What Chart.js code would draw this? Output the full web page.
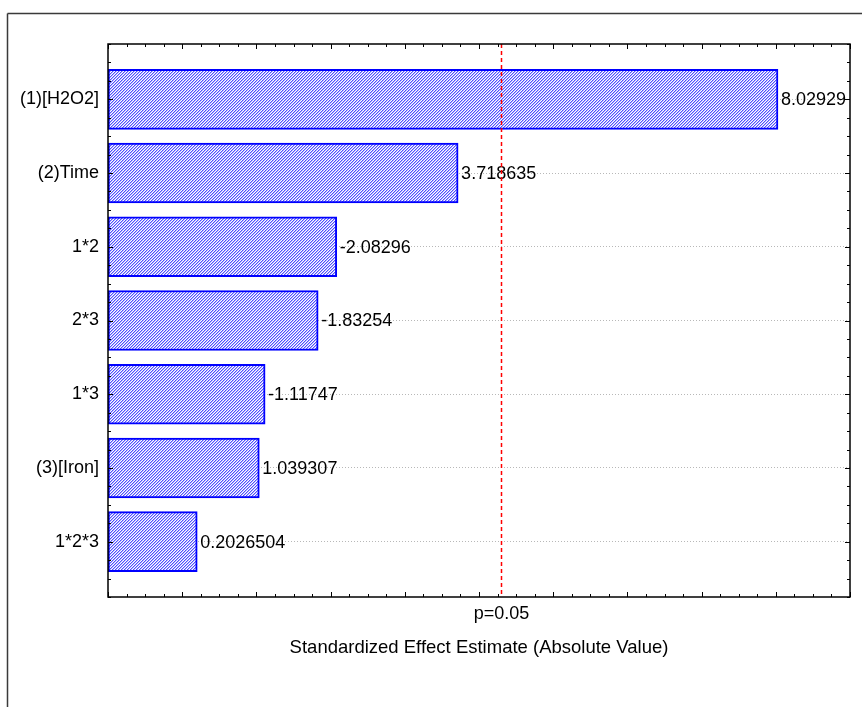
<!DOCTYPE html>
<html><head><meta charset="utf-8">
<script src="https://cdn.jsdelivr.net/npm/chart.js@4.4.1/dist/chart.umd.min.js"></script>
<style>html,body{margin:0;padding:0;background:#fff;overflow:hidden}#wrap{width:862px;height:707px;position:relative}</style>
</head><body><div id="wrap"><canvas id="c" width="862" height="707"></canvas></div>
<script>
const categories = ['(1)[H2O2]', '(2)Time', '1*2', '2*3', '1*3', '(3)[Iron]', '1*2*3'];
const effects = [8.02929, 3.718635, -2.08296, -1.83254, -1.11747, 1.039307, 0.2026504];
const effectLabels = ['8.02929', '3.718635', '-2.08296', '-1.83254', '-1.11747', '1.039307', '0.2026504'];
const pCritical = 4.302653;
const pLabel = 'p=0.05';
const xMin = -1, xMax = 9, xMinorStep = 0.25;
const yMin = -0.75, yMax = 6.75, yMinorStep = 0.25;
const xTitle = 'Standardized Effect Estimate (Absolute Value)';

const FONT = {family: '"Liberation Sans", Arial, sans-serif', size: 18};
const TITLE_FONT = {family: '"Liberation Sans", Arial, sans-serif', size: 18.5};

function hatch() {
  const n = 3;
  const shades = ['#5050ff', '#b4b4ff', '#ffffff'];
  const c = document.createElement('canvas');
  c.width = n; c.height = n;
  const g = c.getContext('2d');
  for (let x = 0; x < n; x++) {
    for (let y = 0; y < n; y++) {
      g.fillStyle = shades[(x + y) % n];
      g.fillRect(x, y, 1, 1);
    }
  }
  return g.createPattern(c, 'repeat');
}

function line(ctx, x1, y1, x2, y2) { ctx.beginPath(); ctx.moveTo(x1, y1); ctx.lineTo(x2, y2); ctx.stroke(); }

const decor = {
  id: 'decor',
  beforeDraw(chart) {
    const ctx = chart.ctx;
    ctx.save();
    ctx.fillStyle = '#fff'; ctx.fillRect(0, 0, chart.width, chart.height);
    ctx.strokeStyle = '#3a3a3a'; ctx.lineWidth = 1.5;
    line(ctx, 7.5, 13.5, chart.width, 13.5);
    line(ctx, 7.5, 13.5, 7.5, chart.height);
    ctx.restore();
  },
  afterDatasetsDraw(chart) {
    const ctx = chart.ctx, a = chart.chartArea, xs = chart.scales.x, ys = chart.scales.y;
    const meta = chart.getDatasetMeta(0);
    ctx.save();
    ctx.beginPath(); ctx.rect(a.left, a.top, a.right - a.left, a.bottom - a.top); ctx.clip();
    ctx.fillStyle = '#000';
    ctx.font = FONT.size + 'px ' + FONT.family;
    ctx.textAlign = 'left'; ctx.textBaseline = 'middle';
    meta.data.forEach((bar, i) => { ctx.fillText(effectLabels[i], bar.x + 3, bar.y + 1); });
    ctx.restore();
    ctx.save();
    ctx.strokeStyle = '#ff0000'; ctx.lineWidth = 1.5; ctx.setLineDash([4, 3]);
    const px = Math.round(xs.getPixelForValue(pCritical)) + 0.5;
    line(ctx, px, a.top, px, a.bottom);
    ctx.restore();
    ctx.save();
    ctx.strokeStyle = '#000'; ctx.lineWidth = 1;
    const nx = Math.round((xMax - xMin) / xMinorStep);
    for (let k = 0; k <= nx; k++) {
      const v = xMin + k * xMinorStep;
      const x = Math.round(xs.getPixelForValue(v)) + 0.5;
      const len = Number.isInteger(Math.round(v * 1000) / 1000) ? 5 : 3;
      line(ctx, x, a.bottom, x, a.bottom - len);
      line(ctx, x, a.top, x, a.top + len);
    }
    const ny = Math.round((yMax - yMin) / yMinorStep);
    for (let k = 0; k <= ny; k++) {
      const v = yMin + k * yMinorStep;
      const y = Math.round(ys.getPixelForValue(v)) + 0.5;
      const len = Number.isInteger(Math.round(v * 1000) / 1000) ? 5 : 3;
      line(ctx, a.left, y, a.left + len, y);
      line(ctx, a.right, y, a.right - len, y);
    }
    ctx.lineWidth = 1.5;
    ctx.strokeRect(a.left, a.top, a.right - a.left, a.bottom - a.top);
    ctx.restore();
  }
};

new Chart(document.getElementById('c'), {
  type: 'bar',
  data: {
    datasets: [{
      data: categories.map((c, i) => ({x: Math.abs(effects[i]), y: i})),
      base: xMin,
      backgroundColor: hatch(),
      borderColor: '#0000ff',
      borderWidth: 2,
      borderSkipped: false,
      barThickness: 60
    }]
  },
  options: {
    indexAxis: 'y',
    responsive: false,
    animation: false,
    devicePixelRatio: 1,
    layout: {padding: {left: 0, top: 44, right: 12, bottom: 0}},
    plugins: {legend: {display: false}, tooltip: {enabled: false}},
    scales: {
      y: {
        type: 'linear', reverse: true, min: yMin, max: yMax, offset: false,
        afterBuildTicks(s) {
          const t = [];
          const n = Math.round((yMax - yMin) / yMinorStep);
          for (let k = 0; k <= n; k++) t.push({value: Math.round((yMin + k * yMinorStep) * 1000) / 1000});
          s.ticks = t;
        },
        afterFit(s) { s.width = 108; },
        ticks: {
          autoSkip: false, padding: 9, color: '#000', font: FONT,
          callback: (v) => Number.isInteger(v) ? categories[v] : ''
        },
        grid: {
          offset: false, drawTicks: false, lineWidth: 1,
          color: (ctx) => (ctx.tick && Number.isInteger(ctx.tick.value)) ? '#b8b8b8' : 'rgba(0,0,0,0)'
        },
        border: {display: false, dash: [1, 2]}
      },
      x: {
        type: 'linear', min: xMin, max: xMax, offset: false,
        afterBuildTicks(s) { s.ticks = [{value: pCritical}]; },
        afterFit(s) { s.height = 110; },
        ticks: {autoSkip: false, maxRotation: 0, padding: 6, color: '#000', font: FONT, callback: () => pLabel},
        grid: {display: false, drawTicks: false},
        border: {display: false},
        title: {display: true, text: xTitle, color: '#000', font: TITLE_FONT, padding: {top: 0, bottom: 48}}
      }
    }
  },
  plugins: [decor]
});
</script>
</body></html>
